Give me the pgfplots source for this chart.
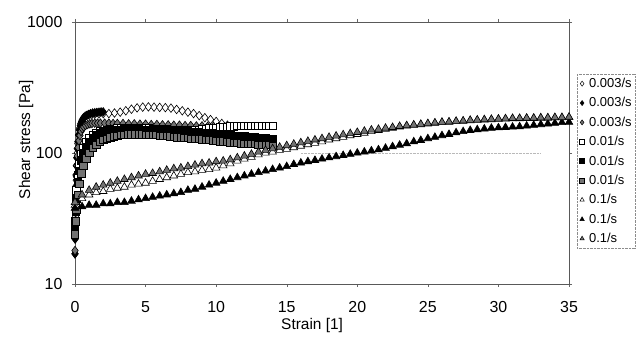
\documentclass[border=0pt]{standalone}
\usepackage{pgfplots}
\pgfplotsset{compat=1.18}
\usepackage{fontspec}
\setmainfont{Liberation Sans}

\pgfplotsset{
  pt/.style={only marks, line width=0.6bp,
    legend image code/.code={%
      \draw[##1, mark size=2.5bp, line width=0.5bp] plot coordinates {(0.1cm,0cm)};}},
}

\begin{document}
\begin{tikzpicture}
\useasboundingbox (-75bp,-54bp) rectangle (563bp,284bp);
\begin{axis}[
  scale only axis, width=494bp, height=262bp,
  xmin=0, xmax=35, ymin=10, ymax=1000, ymode=log,
  xtick={0,5,...,35}, xticklabels={0,5,10,15,20,25,30,35},
  ytick={10,100,1000}, yticklabels={10,100,1000},
  yminorticks=false,
  tick align=outside, major tick length=3bp,
  tick style={black!60, line width=0.4bp},
  axis line style={black!65, line width=0.6bp},
  ticklabel style={font=\fontsize{16}{19}\selectfont},
  xticklabel style={yshift=-11bp},
  yticklabel style={xshift=-6bp},
  xlabel={Strain [1]}, ylabel={Shear stress [Pa]},
  label style={font=\fontsize{15.5}{18}\selectfont},
  xlabel style={at={(axis description cs:0.48,-0.16)}, anchor=center},
  ylabel style={at={(axis description cs:-0.099,0.55)}, anchor=center},
  legend style={at={(1.016,0.8015)}, anchor=north west,
    draw=black!45, densely dotted, line width=0.4bp,
    font=\fontsize{13}{15}\selectfont, inner sep=2.5bp, row sep=5.5bp,
    column sep=3bp, nodes={inner sep=1.5bp}},
  legend cell align=left,
  clip=false,
]
\draw[gray!55, densely dotted, line width=0.4bp] (axis cs:16,100) -- (axis cs:33,100);

% 0.003/s
\addplot[pt, mark=diamond*, mark size=4.3bp, mark options={solid, draw=black, fill=white}] coordinates {
(0,17) (0.02,24) (0.04,33) (0.06,45) (0.09,62) (0.12,80) (0.16,100) (0.2,118) (0.26,138)
(0.33,155) (0.41,168) (0.5,178) (0.6,186) (0.72,191) (0.85,194) (1.0,195) (1.2,197) (1.4,198)
(1.7,199) (2.0,200) (2.4,200) (2.8,202) (3.2,205) (3.6,210) (4.0,216) (4.4,221) (4.8,224)
(5.2,225) (5.6,224) (6.0,223) (6.4,222) (6.8,220) (7.2,215) (7.6,210) (8.0,205) (8.4,200)
(8.8,193) (9.2,186) (9.6,180) (10.0,174) (10.4,168) (10.8,163)};
\addlegendentry{0.003/s}
\addplot[pt, mark=diamond*, mark size=4.3bp, mark options={solid, draw=black, fill=black}] coordinates {
(0,17) (0.01,22) (0.02,28) (0.03,36) (0.04,45) (0.05,55) (0.07,68) (0.09,80) (0.12,92)
(0.16,108) (0.2,122) (0.25,137) (0.3,150) (0.37,162) (0.45,172) (0.55,181) (0.65,187)
(0.8,193) (0.95,197) (1.1,200) (1.25,202) (1.4,203) (1.55,204) (1.7,205) (1.85,206) (2.0,206)};
\addlegendentry{0.003/s}
\addplot[pt, mark=diamond*, mark size=4.3bp, mark options={solid, draw=black, fill=black!55}] coordinates {
(0,18) (0.02,25) (0.04,35) (0.06,45) (0.08,56) (0.1,66) (0.13,80) (0.17,95) (0.22,110)
(0.28,124) (0.35,136) (0.43,146) (0.52,153) (0.62,158) (0.75,162) (0.9,165) (1.05,167)
(1.2,168) (1.4,169) (1.6,169) (1.8,169) (2.1,169) (2.4,169) (2.7,168) (3.0,168) (3.4,168)
(3.8,167) (4.2,167) (4.6,166) (5.0,166) (5.4,165) (5.8,165) (6.2,164) (6.6,164) (7.0,163)
(7.4,163) (7.8,162) (8.2,162) (8.6,161) (9.0,161) (9.4,160) (9.8,160) (10.2,159) (10.6,159) (11.0,158)};
\addlegendentry{0.003/s}

% 0.01/s
\addplot[pt, mark=square*, mark size=3.7bp, mark options={solid, draw=black, fill=white}] coordinates {
(0,30) (0.05,40) (0.1,52) (0.2,68) (0.3,82) (0.45,98) (0.6,110) (0.8,122) (1.0,131) (1.25,138)
(1.5,143) (1.75,146) (2.00,148) (2.25,150) (2.50,152) (2.75,153) (3.00,154) (3.25,154)
(3.50,155) (3.75,155) (4.00,155) (4.25,155) (4.50,155) (4.75,154) (5.00,154) (5.25,154)
(5.50,153) (5.75,153) (6.00,153) (6.25,152) (6.50,152) (6.75,151) (7.00,151) (7.25,150)
(7.50,150) (7.75,150) (8.00,150) (8.25,150) (8.50,150) (8.75,151) (9.00,152) (9.25,153)
(9.50,154) (9.75,155) (10.00,156) (10.25,157) (10.50,158) (10.75,159) (11.00,160) (11.25,160)
(11.50,161) (11.75,161) (12.00,161) (12.25,161) (12.50,161) (12.75,161) (13.00,161)
(13.25,161) (13.50,162) (13.75,162) (14.00,162)};
\addlegendentry{0.01/s}
\addplot[pt, mark=square*, mark size=3.7bp, mark options={solid, draw=black, fill=black}] coordinates {
(0,28) (0.05,36) (0.1,45) (0.2,60) (0.3,73) (0.45,88) (0.6,100) (0.8,112) (1.0,122) (1.25,131)
(1.5,137) (1.75,142) (2.00,145) (2.25,147) (2.50,149) (2.75,150) (3.00,151) (3.25,151)
(3.50,152) (3.75,152) (4.00,152) (4.25,152) (4.50,152) (4.75,151) (5.00,151) (5.25,151)
(5.50,150) (5.75,150) (6.00,150) (6.25,149) (6.50,149) (6.75,148) (7.00,148) (7.25,147)
(7.50,147) (7.75,146) (8.00,146) (8.25,145) (8.50,144) (8.75,144) (9.00,143) (9.25,142)
(9.50,141) (9.75,141) (10.00,140) (10.25,139) (10.50,138) (10.75,138) (11.00,137) (11.25,136)
(11.50,135) (11.75,135) (12.00,134) (12.25,133) (12.50,132) (12.75,132) (13.00,131)
(13.25,130) (13.50,130) (13.75,129) (14.00,129)};
\addlegendentry{0.01/s}
\addplot[pt, mark=square*, mark size=3.7bp, mark options={solid, draw=black, fill=black!55}] coordinates {
(0,24) (0.05,30) (0.1,37) (0.2,48) (0.3,58) (0.45,70) (0.6,80) (0.8,91) (1.0,100) (1.25,109)
(1.5,116) (1.75,122) (2.00,126) (2.25,129) (2.50,132) (2.75,134) (3.00,136) (3.25,137)
(3.50,138) (3.75,139) (4.00,139) (4.25,139) (4.50,139) (4.75,139) (5.00,138) (5.25,138)
(5.50,137) (5.75,137) (6.00,136) (6.25,135) (6.50,135) (6.75,134) (7.00,133) (7.25,132)
(7.50,132) (7.75,131) (8.00,130) (8.25,129) (8.50,129) (8.75,128) (9.00,127) (9.25,126)
(9.50,126) (9.75,125) (10.00,124) (10.25,123) (10.50,123) (10.75,122) (11.00,121) (11.25,120)
(11.50,120) (11.75,119) (12.00,118) (12.25,118) (12.50,117) (12.75,117) (13.00,116)
(13.25,116) (13.50,115) (13.75,115) (14.00,114)};
\addlegendentry{0.01/s}

% 0.1/s
\addplot[pt, mark=triangle*, mark size=4.4bp, mark options={solid, draw=black, fill=white}] coordinates {
(0,40) (0.5,45) (1,48) (1.5,50) (2,51) (2.5,53) (3,54) (3.5,55) (4,57) (4.5,58) (5,59)
(5.5,61) (6,63) (6.5,65) (7,67) (7.5,69) (8,71) (8.5,72) (9,74) (9.5,75) (10,77) (10.5,80)
(11,83) (11.5,87) (12,90) (12.5,93) (13,97) (13.5,100) (14,102) (14.5,105) (15,107) (15.5,110)
(16,113) (16.5,116) (17,119) (17.5,122) (18,126) (18.5,129) (19,132) (19.5,136) (20,139)
(20.5,142) (21,146) (21.5,149) (22,152) (22.5,155) (23,158) (23.5,161) (24,163) (24.5,165)
(25,167) (25.5,169) (26,171) (26.5,172) (27,174) (27.5,175) (28,177) (28.5,178) (29,179)
(29.5,180) (30,181) (30.5,182) (31,183) (31.5,183) (32,184) (32.5,184) (33,185) (33.5,185)
(34,186) (34.5,186) (35,187)};
\addlegendentry{0.1/s}
\addplot[pt, mark=triangle*, mark size=4.4bp, mark options={solid, draw=black, fill=black}] coordinates {
(0,38) (0.5,39) (1,40) (1.5,40) (2,41) (2.5,41) (3,42) (3.5,42) (4,43) (4.5,44) (5,45)
(5.5,46) (6,47) (6.5,48) (7,49) (7.5,50) (8,52) (8.5,53) (9,55) (9.5,57) (10,59) (10.5,61)
(11,63) (11.5,65) (12,67) (12.5,69) (13,71) (13.5,73) (14,75) (14.5,77) (15,79) (15.5,82)
(16,84) (16.5,86) (17,88) (17.5,90) (18,92) (18.5,94) (19,96) (19.5,98) (20,100) (20.5,102)
(21,104) (21.5,106) (22,109) (22.5,112) (23,115) (23.5,118) (24,122) (24.5,125) (25,129)
(25.5,132) (26,136) (26.5,139) (27,143) (27.5,146) (28,149) (28.5,151) (29,153) (29.5,155)
(30,156) (30.5,157) (31,158) (31.5,159) (32,161) (32.5,163) (33,165) (33.5,167) (34,169)
(34.5,171) (35,172)};
\addlegendentry{0.1/s}
\addplot[pt, mark=triangle*, mark size=4.4bp, mark options={solid, draw=black, fill=black!55}] coordinates {
(0,42) (0.5,48) (1,52) (1.5,55) (2,57) (2.5,59) (3,61) (3.5,63) (4,65) (4.5,67) (5,69)
(5.5,70) (6,72) (6.5,74) (7,76) (7.5,77) (8,79) (8.5,81) (9,83) (9.5,84) (10,86) (10.5,87)
(11,89) (11.5,92) (12,95) (12.5,98) (13,102) (13.5,105) (14,108) (14.5,111) (15,114)
(15.5,117) (16,120) (16.5,123) (17,126) (17.5,129) (18,132) (18.5,135) (19,138) (19.5,141)
(20,144) (20.5,147) (21,150) (21.5,152) (22,155) (22.5,157) (23,160) (23.5,162) (24,164)
(24.5,166) (25,168) (25.5,170) (26,172) (26.5,173) (27,175) (27.5,176) (28,178) (28.5,179)
(29,180) (29.5,181) (30,182) (30.5,183) (31,184) (31.5,184) (32,185) (32.5,185) (33,186)
(33.5,186) (34,187) (34.5,187) (35,188)};
\addlegendentry{0.1/s}
\end{axis}
\end{tikzpicture}
\end{document}
